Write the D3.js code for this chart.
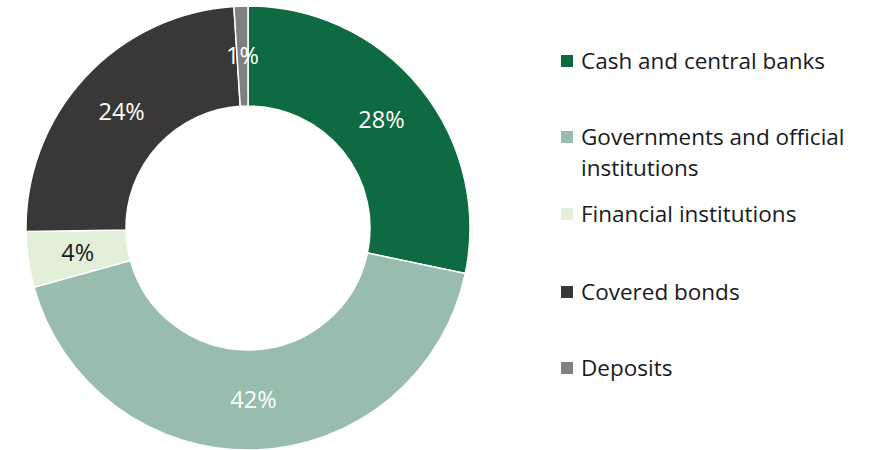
<!DOCTYPE html>
<html>
<head>
<meta charset="utf-8">
<script src="https://cdn.jsdelivr.net/npm/d3@7"></script>
<style>
  html, body { margin: 0; padding: 0; background: #fff; }
  svg { display: block; font-family: "Open Sans", "Noto Sans", sans-serif; }
</style>
</head>
<body>
<svg id="chart" width="877" height="450"></svg>
<script>
// Asset allocation shares (%)
const categories = ["Cash and central banks", "Governments and official institutions", "Financial institutions", "Covered bonds", "Deposits"];
const legendLines = [["Cash and central banks"], ["Governments and official", "institutions"], ["Financial institutions"], ["Covered bonds"], ["Deposits"]];
const values = [28, 42, 4, 24, 1];
const colors = ["#0e6a40", "#98bdae", "#e2efd9", "#3a3837", "#7f7f7f"];
const labelColors = ["#ffffff", "#ffffff", "#1a1a1a", "#ffffff", "#ffffff"];

const svg = d3.select("#chart");
const cx = 248, cy = 228, outerR = 222, innerR = 122;

const pie = d3.pie().sort(null).value(d => d.value);
const arcs = pie(values.map((v, i) => ({ value: v, i })));
const arc = d3.arc().innerRadius(innerR).outerRadius(outerR);
const labelArc = d3.arc().innerRadius((innerR + outerR) / 2).outerRadius((innerR + outerR) / 2);

const g = svg.append("g").attr("transform", `translate(${cx},${cy})`);

g.selectAll("path.slice")
  .data(arcs)
  .join("path")
  .attr("class", "slice")
  .attr("d", arc)
  .attr("fill", d => colors[d.data.i])
  .attr("stroke", "#fff")
  .attr("stroke-width", 1.5);

g.selectAll("text.pct")
  .data(arcs)
  .join("text")
  .attr("class", "pct")
  .attr("transform", d => `translate(${labelArc.centroid(d)})`)
  .attr("text-anchor", "middle")
  .attr("dy", "0.35em")
  .attr("font-size", 23.5)
  .attr("fill", d => labelColors[d.data.i])
  .text(d => d.data.value + "%");

// Legend
const legendY = [61, 137, 214, 292, 368];
const legend = svg.append("g");
const items = legend.selectAll("g.item")
  .data(categories)
  .join("g")
  .attr("class", "item")
  .attr("transform", (d, i) => `translate(561,${legendY[i]})`);

items.append("rect")
  .attr("x", 0).attr("y", -6)
  .attr("width", 12).attr("height", 12)
  .attr("fill", (d, i) => colors[i]);

items.append("text")
  .attr("x", 20)
  .attr("font-size", 22.5)
  .attr("fill", "#1a1a1a")
  .selectAll("tspan")
  .data((d, i) => legendLines[i])
  .join("tspan")
  .attr("x", 20)
  .attr("y", (d, j) => j * 31)
  .attr("dy", "0.35em")
  .text(d => d);
</script>
</body>
</html>
